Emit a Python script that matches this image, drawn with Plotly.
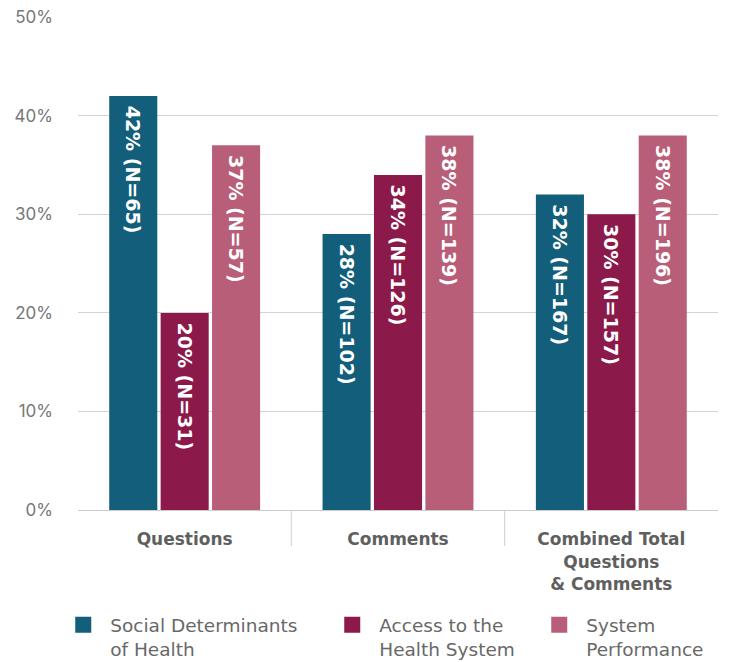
import plotly.graph_objects as go

categories = ["Questions", "Comments", "Combined Total<br>Questions<br>& Comments"]
series_names = ["Social Determinants<br>of Health", "Access to the<br>Health System", "System<br>Performance"]
colors = ["#135E7A", "#8B1A4A", "#B85E78"]
values = [
    [42, 28, 32],
    [20, 34, 30],
    [37, 38, 38],
]
counts = [
    [65, 102, 167],
    [31, 126, 157],
    [57, 139, 196],
]
y_ticks = [0, 10, 20, 30, 40, 50]
y_tick_labels = ["0%", "10%", "20%", "30%", "40%", "50%"]
legend_widths = [210, 148, 0]

fig = go.Figure()
for name, col, vals, ns in zip(series_names, colors, values, counts):
    fig.add_trace(go.Bar(
        x=categories, y=vals, name=name,
        marker=dict(color=col, line=dict(width=0)),
        text=[f"\u00a0{v}% (N={n})" for v, n in zip(vals, ns)],
        textposition="inside", insidetextanchor="end", textangle=90,
        textfont=dict(family="DejaVu Sans", size=19, color="white", weight="bold"),
        showlegend=False,
    ))
for name, col, lw in zip(series_names, colors, legend_widths):
    fig.add_trace(go.Scatter(
        x=[None], y=[None], mode="markers", name=name, legendwidth=lw,
        marker=dict(symbol="square", size=18, color=col, line=dict(width=0)),
    ))

# category dividers
for xb in [0.5, 1.5]:
    fig.add_shape(type="line", xref="x", yref="paper", x0=xb, x1=xb, y0=0, y1=-0.073,
                  line=dict(color="#d0d0d0", width=1))

fig.update_layout(
    width=739, height=662,
    margin=dict(l=70, r=29, t=9, b=160, autoexpand=False),
    plot_bgcolor="white", paper_bgcolor="white",
    barmode="group", bargap=0.277, bargroupgap=0.065,
    font=dict(family="DejaVu Sans", color="#666"),
    xaxis=dict(showline=True, linecolor="#cccccc", linewidth=1, ticks="",
               automargin=False,
               tickfont=dict(family="DejaVu Sans", size=17, color="#5f5f5f", weight="bold"),
               ticklabelstandoff=14),
    yaxis=dict(range=[0, 50.02], tickvals=y_ticks, ticktext=y_tick_labels,
               automargin=False, ticklabeloverflow="allow",
               showgrid=True, gridcolor="#d3d3d3", gridwidth=1, zeroline=False,
               tickfont=dict(family="Inter", size=17, color="#777"),
               ticklabelstandoff=24),
    legend=dict(orientation="h", x=-0.034, xanchor="left", y=-0.195, yanchor="top",
                font=dict(family="DejaVu Sans", size=18.5, color="#686868"),
                itemsizing="trace", itemwidth=44, valign="top", tracegroupgap=0),
)
fig.write_html("out.html")
